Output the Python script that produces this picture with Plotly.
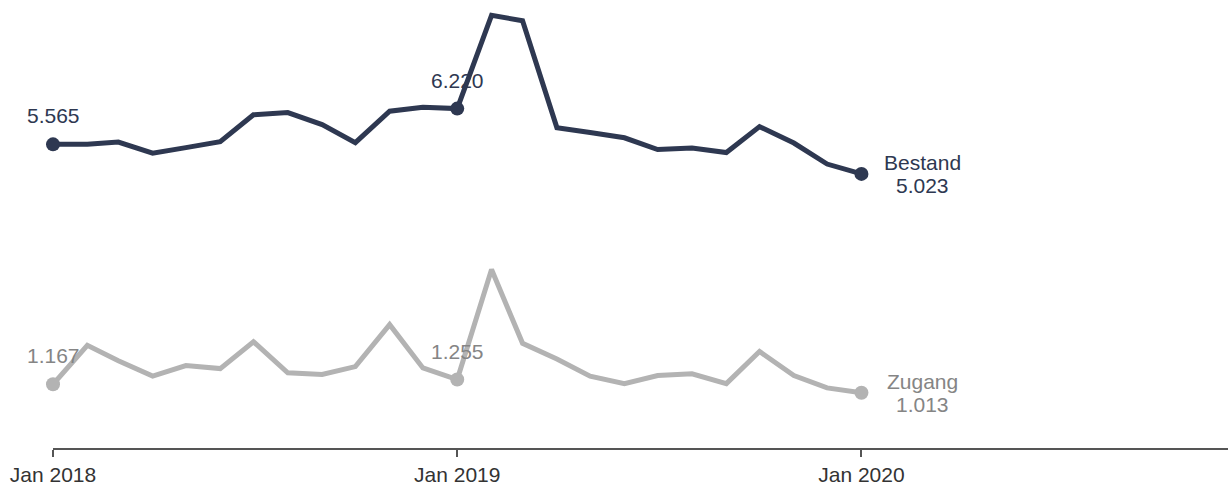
import plotly.graph_objects as go

months = ["2018-01-01", "2018-02-01", "2018-03-01", "2018-04-01", "2018-05-01", "2018-06-01",
          "2018-07-01", "2018-08-01", "2018-09-01", "2018-10-01", "2018-11-01", "2018-12-01",
          "2019-01-01", "2019-02-01", "2019-03-01", "2019-04-01", "2019-05-01", "2019-06-01",
          "2019-07-01", "2019-08-01", "2019-09-01", "2019-10-01", "2019-11-01", "2019-12-01",
          "2020-01-01"]

bestand = [5.565, 5.565, 5.607, 5.403, 5.505, 5.613, 6.106, 6.148, 5.926, 5.595, 6.172, 6.244,
           6.220, 7.930, 7.830, 5.871, 5.781, 5.685, 5.469, 5.499, 5.415, 5.889, 5.589, 5.204,
           5.023]

zugang = [1.167, 1.882, 1.600, 1.317, 1.510, 1.455, 1.948, 1.377, 1.347, 1.492, 2.261, 1.467,
          1.255, 3.270, 1.918, 1.630, 1.317, 1.179, 1.329, 1.359, 1.179, 1.768, 1.329, 1.101,
          1.013]

tick_vals = ["2018-01-01", "2019-01-01", "2020-01-01"]
tick_text = ["Jan 2018", "Jan 2019", "Jan 2020"]
label_idx = [0, 12]

NAVY = "#2e3851"
GRAY_LINE = "#b3b3b3"
GRAY_TEXT = "#858585"
FONT = "Liberation Sans, Arial, sans-serif"
FS = 21

fig = go.Figure()

for name, vals, lc, tc in [("Bestand", bestand, NAVY, NAVY), ("Zugang", zugang, GRAY_LINE, GRAY_TEXT)]:
    fig.add_trace(go.Scatter(
        x=months, y=vals, mode="lines", line=dict(color=lc, width=5),
        cliponaxis=False, showlegend=False, hoverinfo="skip"))
    mi = label_idx + [len(vals) - 1]
    fig.add_trace(go.Scatter(
        x=[months[i] for i in mi], y=[vals[i] for i in mi], mode="markers",
        marker=dict(color=lc, size=14), cliponaxis=False, showlegend=False, hoverinfo="skip"))
    for i in label_idx:
        fig.add_annotation(x=months[i], y=vals[i], text=f"{vals[i]:.3f}", showarrow=False,
                           xanchor="center", yanchor="bottom", yshift=15,
                           font=dict(family=FONT, size=FS, color=tc))
    for txt, ys in [(name, 11), (f"{vals[-1]:.3f}", -12)]:
        fig.add_annotation(x=months[-1], y=vals[-1], text=txt, showarrow=False,
                           xanchor="center", yanchor="middle", xshift=61, yshift=ys,
                           font=dict(family=FONT, size=FS, color=tc))

fig.update_layout(
    width=1228, height=486,
    margin=dict(l=53, r=0, t=0, b=38),
    paper_bgcolor="white", plot_bgcolor="white",
    font=dict(family=FONT, size=FS, color="#333333"),
    xaxis=dict(type="date", range=["2018-01-01", "2020-11-27"], tickvals=tick_vals, ticktext=tick_text,
               showline=True, linecolor="#555555", linewidth=2, ticks="outside", ticklen=7,
               tickwidth=2, tickcolor="#555555", showgrid=False, zeroline=False,
               tickfont=dict(family=FONT, size=FS, color="#333333")),
    yaxis=dict(range=[0, 8.21], visible=False, showgrid=False, zeroline=False),
)

fig.write_html("out.html", config={"displayModeBar": False},
               post_script="document.body.style.margin='0';document.body.style.overflow='hidden';")
